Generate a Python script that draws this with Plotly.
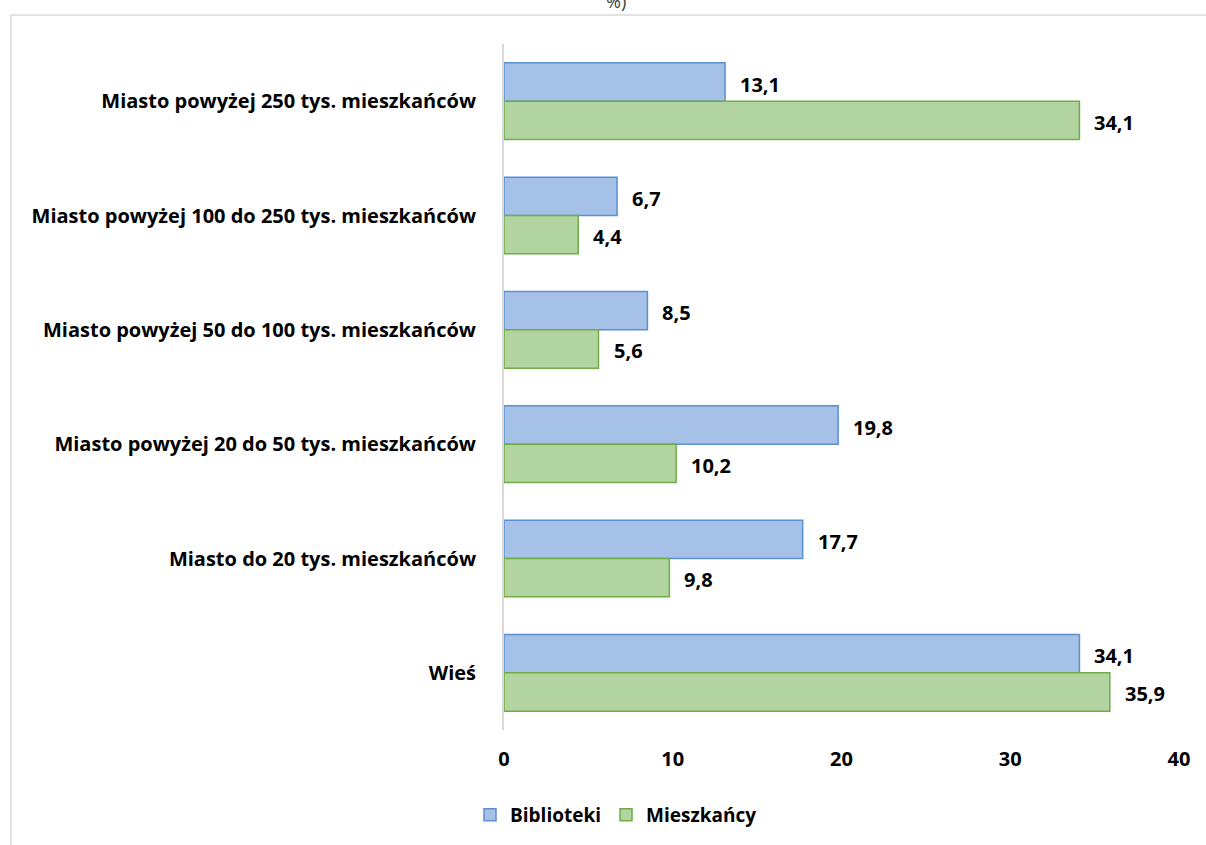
import plotly.graph_objects as go

# Categories listed top to bottom (y axis is reversed)
categories = [
    "Miasto powyżej 250 tys. mieszkańców",
    "Miasto powyżej 100 do 250 tys. mieszkańców",
    "Miasto powyżej 50 do 100 tys. mieszkańców",
    "Miasto powyżej 20 do 50 tys. mieszkańców",
    "Miasto do 20 tys. mieszkańców",
    "Wieś",
]
biblioteki = [13.1, 6.7, 8.5, 19.8, 17.7, 34.1]
mieszkancy = [34.1, 4.4, 5.6, 10.2, 9.8, 35.9]
x_ticks = [0, 10, 20, 30, 40]

FONT = "Open Sans"
SIZE = 20
BLUE_FILL, BLUE_LINE = "#a6c1e7", "#5b8fd0"
GREEN_FILL, GREEN_LINE = "#b1d4a0", "#70ad47"


def fmt(v):
    return f"{v:.1f}".replace(".", ",")


fig = go.Figure()
fig.add_trace(go.Bar(
    name="Biblioteki", y=categories, x=biblioteki, orientation="h",
    marker=dict(color=BLUE_FILL, line=dict(color=BLUE_LINE, width=1.5)),
))
fig.add_trace(go.Bar(
    name="Mieszkańcy", y=categories, x=mieszkancy, orientation="h",
    marker=dict(color=GREEN_FILL, line=dict(color=GREEN_LINE, width=1.5)),
))

bargap = 0.33
half = (1 - bargap) / 4  # centre offset of each bar within its group

annotations = []
for i, (b, m) in enumerate(zip(biblioteki, mieszkancy)):
    for val, off in ((b, -half), (m, half)):
        annotations.append(dict(
            x=val, y=i + off, xref="x", yref="y", text=fmt(val),
            showarrow=False, xanchor="left", yanchor="middle", xshift=13, yshift=-2,
            font=dict(family=FONT, size=SIZE, color="#000000", weight="bold"),
        ))

# Tail of the title line, cut off at the top edge
annotations.append(dict(
    x=((604 + 627) / 2 - 504) / 675, xref="paper", y=1.0422, yref="paper", text="%)",
    showarrow=False, xanchor="center", yanchor="bottom",
    font=dict(family=FONT, size=18, color="#404040"),
))

fig.update_layout(
    width=1206, height=845,
    margin=dict(l=504, r=27, t=44, b=114),
    paper_bgcolor="white", plot_bgcolor="white",
    barmode="group", bargap=bargap, bargroupgap=0,
    font=dict(family=FONT, size=SIZE, color="#000000"),
    showlegend=True,
    legend=dict(
        orientation="h", x=(616 - 504) / 675, xanchor="center",
        y=(731 - 815) / 687, yanchor="middle",
        font=dict(family=FONT, size=19, weight="bold"),
        itemwidth=30,
    ),
    xaxis=dict(
        range=[0, 40], tickvals=x_ticks, ticktext=[str(t) for t in x_ticks],
        showgrid=False, zeroline=False, showline=False,
        tickfont=dict(family=FONT, size=SIZE, weight="bold"),
        ticks="", ticklabelstandoff=15,
    ),
    yaxis=dict(
        autorange="reversed", showgrid=False, zeroline=False,
        showline=True, linecolor="#d9d9d9", linewidth=2,
        tickfont=dict(family=FONT, size=SIZE, weight="bold"),
        ticks="", ticklabelstandoff=22,
    ),
    annotations=annotations,
    shapes=[dict(
        type="rect", xref="paper", yref="paper",
        x0=(11 - 504) / 675, x1=2, y0=-1, y1=(731 - 15) / 687,
        line=dict(color="#d9d9d9", width=1.5), fillcolor="rgba(0,0,0,0)", layer="below",
    )],
)

fig.write_html("out.html")
